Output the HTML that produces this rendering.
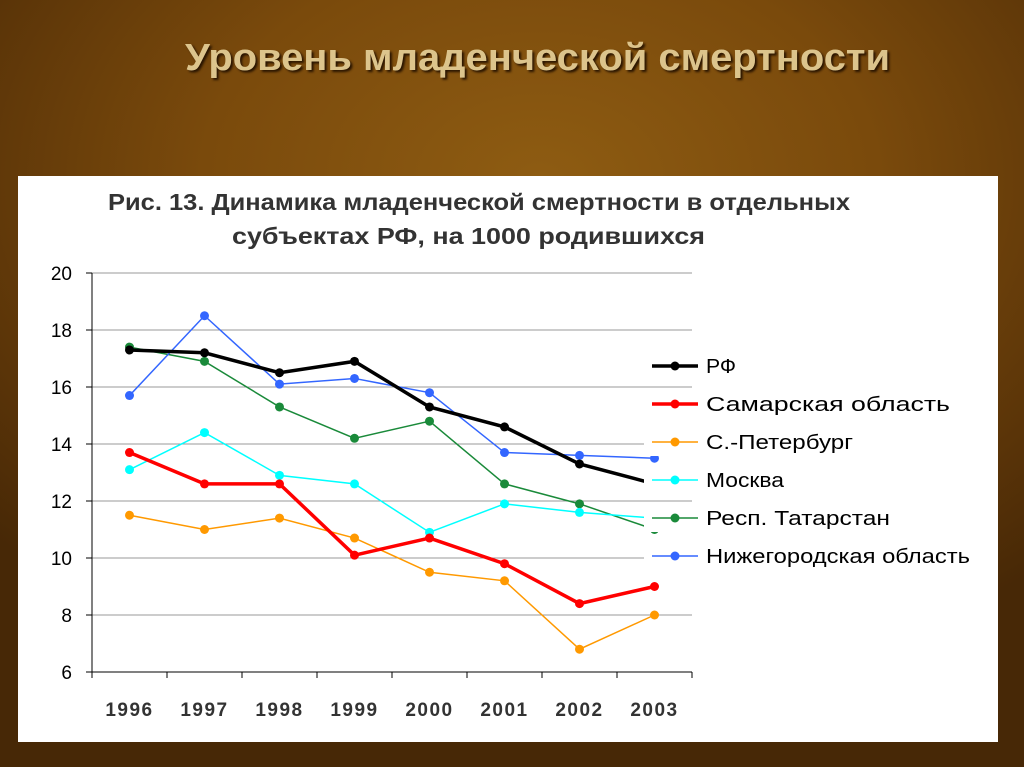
<!DOCTYPE html>
<html><head><meta charset="utf-8"><style>
html,body{margin:0;padding:0}
body{width:1024px;height:767px;overflow:hidden;position:relative;
background:radial-gradient(ellipse 750px 520px at 540px 180px,#8e5c12 0%,#7a4a0c 45%,#5a3408 80%,#472806 100%);
font-family:"Liberation Sans","Noto Sans CJK SC",sans-serif}
#panel{position:absolute;left:18px;top:176px;width:980px;height:566px;background:#fff}
</style></head><body>
<div id="panel"></div>
<svg id="chart" width="1024" height="767" style="position:absolute;left:0;top:0"></svg>
<script>
const years=["1996","1997","1998","1999","2000","2001","2002","2003"];
const rf=[17.3,17.2,16.5,16.9,15.3,14.6,13.3,12.6];
const samara=[13.7,12.6,12.6,10.1,10.7,9.8,8.4,9.0];
const spb=[11.5,11.0,11.4,10.7,9.5,9.2,6.8,8.0];
const moscow=[13.1,14.4,12.9,12.6,10.9,11.9,11.6,11.4];
const tatar=[17.4,16.9,15.3,14.2,14.8,12.6,11.9,11.0];
const nizh=[15.7,18.5,16.1,16.3,15.8,13.7,13.6,13.5];
const yTicks=[6,8,10,12,14,16,18,20];
const seriesNames=["РФ","Самарская область","С.-Петербург","Москва","Респ. Татарстан","Нижегородская область"];
const legendLens=[30,244,147,78,184,264];
const NS="http://www.w3.org/2000/svg";
const svg=document.getElementById('chart');
const X0=92,XW=75,Y0=672,YS=28.5;
const xs=i=>X0+XW*(i+0.5);
const ys=v=>Y0-(v-6)*YS;
function mk(t,a,p){const e=document.createElementNS(NS,t);for(const k in a)e.setAttribute(k,a[k]);(p||svg).appendChild(e);return e;}
const st=mk('text',{x:185,y:70,'font-size':38,'font-weight':'bold',fill:'#dcc48c',textLength:705,lengthAdjust:'spacingAndGlyphs',style:'text-shadow:2px 2px 2px #2a1500'});
st.textContent="Уровень младенческой смертности";


const t1=mk('text',{x:108,y:210,'font-size':23,'font-weight':'bold',fill:'#333',textLength:742,lengthAdjust:'spacingAndGlyphs'});t1.textContent="Рис. 13. Динамика младенческой смертности в отдельных";


const t2=mk('text',{x:232,y:244,'font-size':23,'font-weight':'bold',fill:'#333',textLength:473,lengthAdjust:'spacingAndGlyphs'});t2.textContent="субъектах РФ, на 1000 родившихся";


yTicks.forEach(v=>{
 const g=mk('line',{x1:X0,x2:X0+600,y1:ys(v),y2:ys(v),stroke:'#999','stroke-width':1});
 
 
 mk('line',{x1:X0-6,x2:X0,y1:ys(v),y2:ys(v),stroke:'#000'});
 const t=mk('text',{x:72,y:ys(v)+7,'text-anchor':'end','font-size':19,fill:'#000'});t.textContent=v;
 
 
});
mk('line',{x1:X0,x2:X0,y1:ys(20),y2:Y0,stroke:'#000'});
mk('line',{x1:X0,x2:X0+600,y1:Y0,y2:Y0,stroke:'#000'});
years.forEach((y,i)=>{
 mk('line',{x1:X0+XW*i,x2:X0+XW*i,y1:Y0,y2:Y0+6,stroke:'#000'});
 const t=mk('text',{x:xs(i),y:716,'text-anchor':'middle','font-size':19,'font-weight':'bold',fill:'#333','letter-spacing':1.5});t.textContent=y;
 
 
});
mk('line',{x1:X0+600,x2:X0+600,y1:Y0,y2:Y0+6,stroke:'#000'});
const all=[rf,samara,spb,moscow,tatar,nizh];
const cols=['#000','#f00','#f90','#0ff','#1a8a3a','#36f'];
const widths=[3.5,3.5,1.5,1.5,1.5,1.5];
[4,5,3,2,1,0].forEach(s=>{
 const pts=all[s].map((v,i)=>xs(i)+','+ys(v)).join(' ');
 const pl=mk('polyline',{points:pts,fill:'none',stroke:cols[s],'stroke-width':widths[s]});
 
 
 all[s].forEach((v,i)=>{
  const c=mk('circle',{cx:xs(i),cy:ys(v),r:4.5,fill:cols[s]});
  
  
 });
});
seriesNames.forEach((n,k)=>{
 const y=366+k*38;
 const g=mk('g',{});
 
 
 mk('rect',{x:644,y:y-14,width:352,height:28,fill:'#fff'},g);
 mk('line',{x1:652,x2:698,y1:y,y2:y,stroke:cols[k],'stroke-width':widths[k]},g);
 mk('circle',{cx:675,cy:y,r:4.5,fill:cols[k]},g);
 const t=mk('text',{x:706,y:y+7,'font-size':20,fill:'#000',textLength:legendLens[k],lengthAdjust:'spacingAndGlyphs'},g);t.textContent=n;
});
</script>
</body></html>
